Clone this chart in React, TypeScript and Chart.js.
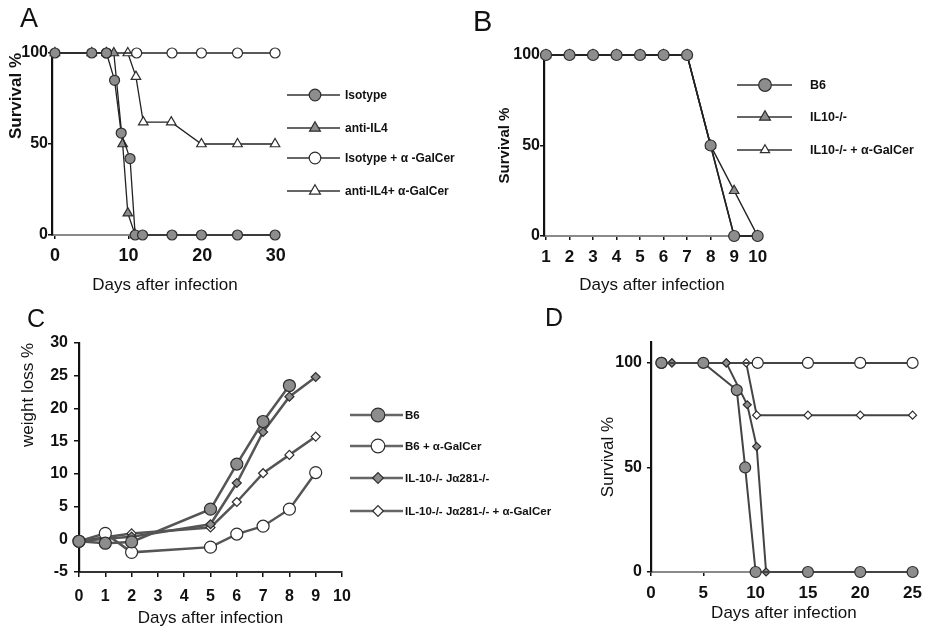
import React, { useEffect, useRef } from 'react';
import { Chart, registerables } from 'chart.js';

Chart.register(...registerables);

// ---------------- Panel A ----------------
const A_X_TICKS = [0, 10, 20, 30];
const A_Y_TICKS = [0, 50, 100];
const A_ISOTYPE_DAYS = [0, 5, 7, 8.1, 9, 10.2, 10.9, 11.9, 15.9, 19.9, 24.8, 29.9];
const A_ISOTYPE = [100, 100, 100, 85, 56, 42, 0, 0, 0, 0, 0, 0];
const A_ANTIIL4_DAYS = [0, 5, 7, 8, 9.2, 9.9, 10.9];
const A_ANTIIL4 = [100, 100, 100, 100, 50, 12, 0];
const A_ISO_GAL_DAYS = [7, 11.1, 15.9, 19.9, 24.8, 29.9];
const A_ISO_GAL = [100, 100, 100, 100, 100, 100];
const A_ANTI_GAL_DAYS = [9.9, 11, 12, 15.8, 19.9, 24.8, 29.9];
const A_ANTI_GAL = [100, 87, 62, 62, 50, 50, 50];

// ---------------- Panel B ----------------
const B_X_TICKS = [1, 2, 3, 4, 5, 6, 7, 8, 9, 10];
const B_Y_TICKS = [0, 50, 100];
const B_DAYS = [1, 2, 3, 4, 5, 6, 7, 8, 9, 10];
const B_B6 = [100, 100, 100, 100, 100, 100, 100, 50, 0, 0];
const B_IL10 = [100, 100, 100, 100, 100, 100, 100, 50, 25, 0];
const B_IL10_GAL = [100, 100, 100, 100, 100, 100, 100, 50, 0, 0];

// ---------------- Panel C ----------------
const C_X_TICKS = [0, 1, 2, 3, 4, 5, 6, 7, 8, 9, 10];
const C_Y_TICKS = [-5, 0, 5, 10, 15, 20, 25, 30];
const C_B6_DAYS = [0, 1, 2, 5, 6, 7, 8];
const C_B6 = [-0.3, -0.6, -0.4, 4.6, 11.5, 18, 23.5];
const C_DAYS = [0, 1, 2, 5, 6, 7, 8, 9];
const C_B6_GAL = [-0.3, 0.9, -2.0, -1.2, 0.8, 2.0, 4.6, 10.2];
const C_KO = [-0.3, 0.1, 0.4, 2.3, 8.6, 16.4, 21.8, 24.8];
const C_KO_GAL = [-0.3, 0.3, 0.9, 1.8, 5.7, 10.1, 12.9, 15.7];

// ---------------- Panel D ----------------
const D_X_TICKS = [0, 5, 10, 15, 20, 25];
const D_Y_TICKS = [0, 50, 100];
const D_B6_DAYS = [1, 5, 8.2, 9, 10, 15, 20, 25];
const D_B6 = [100, 100, 87, 50, 0, 0, 0, 0];
const D_KO_DAYS = [2, 7.2, 9.2, 10.1, 11, 15, 20, 25];
const D_KO = [100, 100, 80, 60, 0, 0, 0, 0];
const D_B6_GAL_DAYS = [1, 10.2, 15, 20, 25];
const D_B6_GAL = [100, 100, 100, 100, 100];
const D_KO_GAL_DAYS = [2, 7.2, 9.1, 10.1, 15, 20, 25];
const D_KO_GAL = [100, 100, 100, 75, 75, 75, 75];

const FONT = '"Liberation Sans", Arial, Helvetica, sans-serif';
const GREY = '#8d8d8d';
const EDGE = '#2e2e2e';
const WHITE = '#ffffff';
const INK = '#111111';

type Marker = 'circle' | 'triangle' | 'rectRot';
interface SeriesSpec {
  label: string;
  days: number[];
  values: number[];
  marker: Marker;
  fill: string;
  radius: number;
}
interface PanelSpec {
  left: number; top: number; width: number; height: number;
  area: { left: number; top: number; right: number; bottom: number };
  xMin: number; xMax: number; yMin: number; yMax: number;
  xTicks: number[]; yTicks: number[];
  xTitle: string; yTitle: string;
  yTitleBold: boolean; yTitleSize: number; yTitleAlign: 'start' | 'center' | 'end'; yTitleX: number;
  xTitleSize: number; xTitleY: number;
  xTickSize: number; xTickCenter: number; yTickSize: number; yTickRight: number; tickLen: number;
  xBorder: string; yBorder: string;
  lineColor: string; lineWidth: number;
  letter: { text: string; x: number; y: number; size: number };
  legend?: { x1: number; x2: number; xm: number; xt: number; ys: number[]; size: number; lineColor: string; lineWidth: number };
  series: SeriesSpec[];
}

function drawMarker(ctx: CanvasRenderingContext2D, m: Marker, x: number, y: number, r: number, fill: string) {
  ctx.beginPath();
  if (m === 'circle') {
    ctx.arc(x, y, r, 0, Math.PI * 2);
  } else if (m === 'triangle') {
    let rad = 0;
    for (let i = 0; i < 3; i++) {
      const px = x + Math.sin(rad) * r;
      const py = y - Math.cos(rad) * r;
      if (i === 0) ctx.moveTo(px, py); else ctx.lineTo(px, py);
      rad += (2 * Math.PI) / 3;
    }
  } else {
    ctx.moveTo(x - r, y);
    ctx.lineTo(x, y - r);
    ctx.lineTo(x + r, y);
    ctx.lineTo(x, y + r);
  }
  ctx.closePath();
  ctx.fillStyle = fill;
  ctx.fill();
  ctx.lineWidth = 1.2;
  ctx.strokeStyle = EDGE;
  ctx.stroke();
}

function Panel({ spec }: { spec: PanelSpec }) {
  const ref = useRef<HTMLCanvasElement | null>(null);
  useEffect(() => {
    const canvas = ref.current;
    if (!canvas) return;
    const s = spec;
    const datasets = s.series.map((sr) => ({
      label: sr.label,
      data: sr.days.map((d, i) => ({ x: d, y: sr.values[i] })),
      borderColor: s.lineColor,
      borderWidth: s.lineWidth,
      pointStyle: sr.marker,
      pointRadius: sr.radius,
      pointBackgroundColor: sr.fill,
      pointBorderColor: EDGE,
      pointBorderWidth: 1.2,
      fill: false,
      tension: 0,
      clip: false as any,
    }));
    const decor = {
      id: 'decor' + s.letter.text,
      afterDraw(chart: any) {
        const ctx: CanvasRenderingContext2D = chart.ctx;
        ctx.save();
        ctx.fillStyle = INK;
        ctx.font = `300 ${s.letter.size}px ${FONT}`;
        ctx.textAlign = 'left';
        ctx.textBaseline = 'alphabetic';
        ctx.fillText(s.letter.text, s.letter.x, s.letter.y);
        if (s.legend) {
          const lg = s.legend;
          s.series.forEach((sr, i) => {
            const y = lg.ys[i];
            ctx.beginPath();
            ctx.moveTo(lg.x1, y);
            ctx.lineTo(lg.x2, y);
            ctx.strokeStyle = lg.lineColor;
            ctx.lineWidth = lg.lineWidth;
            ctx.stroke();
            drawMarker(ctx, sr.marker, lg.xm, y, sr.radius + 0.8, sr.fill);
            ctx.fillStyle = INK;
            ctx.font = `bold ${lg.size}px ${FONT}`;
            ctx.textAlign = 'left';
            ctx.textBaseline = 'middle';
            ctx.fillText(sr.label, lg.xt, y + 1);
          });
        }
        ctx.restore();
      },
    };
    const yTitleLH = s.yTitleSize * 1.2;
    const xTitleLH = s.xTitleSize * 1.2;
    const chart = new Chart(canvas, {
      type: 'line',
      data: { datasets },
      options: {
        animation: false,
        responsive: false,
        maintainAspectRatio: false,
        devicePixelRatio: 1,
        layout: {
          padding: { left: 0, top: s.area.top, right: s.width - s.area.right, bottom: 0 },
        },
        plugins: { legend: { display: false }, tooltip: { enabled: false } },
        scales: {
          x: {
            type: 'linear',
            min: s.xMin,
            max: s.xMax,
            afterBuildTicks: (sc: any) => { sc.ticks = s.xTicks.map((v) => ({ value: v })); },
            afterFit: (sc: any) => { sc.height = s.height - s.area.bottom; },
            grid: { display: true, drawOnChartArea: false, drawTicks: true, tickLength: s.tickLen, color: INK, lineWidth: 1.5 },
            border: { display: true, color: s.xBorder, width: 2 },
            ticks: {
              color: INK,
              font: { family: FONT, size: s.xTickSize, weight: 'bold' },
              padding: s.xTickCenter - s.area.bottom - s.tickLen - s.xTickSize * 0.6,
              maxRotation: 0,
              autoSkip: false,
              callback: (v: any) => String(v),
            },
            title: {
              display: true,
              text: s.xTitle,
              color: INK,
              font: { family: FONT, size: s.xTitleSize, weight: 'normal' },
              padding: { top: 0, bottom: Math.max(0, s.height - s.xTitleY - xTitleLH / 2) },
            },
          },
          y: {
            type: 'linear',
            min: s.yMin,
            max: s.yMax,
            afterBuildTicks: (sc: any) => { sc.ticks = s.yTicks.map((v) => ({ value: v })); },
            afterFit: (sc: any) => { sc.width = s.area.left; },
            grid: { display: true, drawOnChartArea: false, drawTicks: true, tickLength: s.tickLen, color: INK, lineWidth: 1.5 },
            border: { display: true, color: s.yBorder, width: 2.2 },
            ticks: {
              color: INK,
              font: { family: FONT, size: s.yTickSize, weight: 'bold' },
              padding: s.area.left - s.tickLen - s.yTickRight,
              autoSkip: false,
              callback: (v: any) => String(v),
            },
            title: {
              display: true,
              text: s.yTitle,
              align: s.yTitleAlign,
              color: INK,
              font: { family: FONT, size: s.yTitleSize, weight: s.yTitleBold ? 'bold' : 'normal' },
              padding: { top: s.yTitleX - yTitleLH / 2, bottom: 0 },
            },
          },
        },
      } as any,
      plugins: [decor],
    });
    return () => chart.destroy();
  }, [spec]);
  return (
    <canvas
      ref={ref}
      width={spec.width}
      height={spec.height}
      style={{ position: 'absolute', left: spec.left, top: spec.top, width: spec.width, height: spec.height }}
    />
  );
}

const PANEL_A: PanelSpec = {
  left: 0, top: 0, width: 460, height: 300,
  area: { left: 52, top: 53, right: 278, bottom: 235 },
  xMin: -0.4, xMax: 30.3, yMin: 0, yMax: 100,
  xTicks: A_X_TICKS, yTicks: A_Y_TICKS,
  xTitle: 'Days after infection', yTitle: 'Survival %',
  yTitleBold: true, yTitleSize: 17, yTitleAlign: 'end', yTitleX: 16.5,
  xTitleSize: 17, xTitleY: 285,
  xTickSize: 18, xTickCenter: 256, yTickSize: 16, yTickRight: 48, tickLen: 4,
  xBorder: '#8a8a8a', yBorder: INK,
  lineColor: '#222222', lineWidth: 1.3,
  letter: { text: 'A', x: 20, y: 27, size: 27 },
  legend: { x1: 287, x2: 340, xm: 315, xt: 345, ys: [95, 128, 158, 191], size: 12, lineColor: '#333333', lineWidth: 1.3 },
  series: [
    { label: 'Isotype', days: A_ISOTYPE_DAYS, values: A_ISOTYPE, marker: 'circle', fill: GREY, radius: 5 },
    { label: 'anti-IL4', days: A_ANTIIL4_DAYS, values: A_ANTIIL4, marker: 'triangle', fill: GREY, radius: 5.5 },
    { label: 'Isotype + α -GalCer', days: A_ISO_GAL_DAYS, values: A_ISO_GAL, marker: 'circle', fill: WHITE, radius: 5 },
    { label: 'anti-IL4+ α-GalCer', days: A_ANTI_GAL_DAYS, values: A_ANTI_GAL, marker: 'triangle', fill: WHITE, radius: 5.5 },
  ],
};

const PANEL_B: PanelSpec = {
  left: 460, top: 0, width: 469, height: 300,
  area: { left: 84, top: 55, right: 300, bottom: 236 },
  xMin: 0.915, xMax: 10.1, yMin: 0, yMax: 100,
  xTicks: B_X_TICKS, yTicks: B_Y_TICKS,
  xTitle: 'Days after infection', yTitle: 'Survival %',
  yTitleBold: true, yTitleSize: 15, yTitleAlign: 'center', yTitleX: 45,
  xTitleSize: 17, xTitleY: 285,
  xTickSize: 17, xTickCenter: 257, yTickSize: 16, yTickRight: 80, tickLen: 4,
  xBorder: '#8a8a8a', yBorder: INK,
  lineColor: '#222222', lineWidth: 1.5,
  letter: { text: 'B', x: 13, y: 31, size: 29 },
  legend: { x1: 277, x2: 332, xm: 305, xt: 350, ys: [85, 117, 150], size: 12.5, lineColor: '#333333', lineWidth: 1.3 },
  series: [
    { label: 'B6', days: B_DAYS, values: B_B6, marker: 'circle', fill: GREY, radius: 5.5 },
    { label: 'IL10-/-', days: B_DAYS, values: B_IL10, marker: 'triangle', fill: GREY, radius: 5.5 },
    { label: 'IL10-/- + α-GalCer', days: B_DAYS, values: B_IL10_GAL, marker: 'triangle', fill: WHITE, radius: 4.5 },
  ],
};

const PANEL_C: PanelSpec = {
  left: 0, top: 300, width: 560, height: 329,
  area: { left: 79, top: 43, right: 342, bottom: 272 },
  xMin: 0, xMax: 10, yMin: -5, yMax: 30,
  xTicks: C_X_TICKS, yTicks: C_Y_TICKS,
  xTitle: 'Days after infection', yTitle: 'weight loss %',
  yTitleBold: false, yTitleSize: 17, yTitleAlign: 'end', yTitleX: 28,
  xTitleSize: 17, xTitleY: 320,
  xTickSize: 16, xTickCenter: 297, yTickSize: 16, yTickRight: 68, tickLen: 5,
  xBorder: '#333333', yBorder: INK,
  lineColor: '#555555', lineWidth: 2.5,
  letter: { text: 'C', x: 27, y: 27, size: 25 },
  legend: { x1: 350, x2: 403, xm: 378, xt: 405, ys: [115, 146, 178, 211], size: 11.5, lineColor: '#666666', lineWidth: 2.5 },
  series: [
    { label: 'B6', days: C_B6_DAYS, values: C_B6, marker: 'circle', fill: GREY, radius: 6 },
    { label: 'B6 + α-GalCer', days: C_DAYS, values: C_B6_GAL, marker: 'circle', fill: WHITE, radius: 6 },
    { label: 'IL-10-/- Jα281-/-', days: C_DAYS, values: C_KO, marker: 'rectRot', fill: GREY, radius: 4.5 },
    { label: 'IL-10-/- Jα281-/- + α-GalCer', days: C_DAYS, values: C_KO_GAL, marker: 'rectRot', fill: WHITE, radius: 4.5 },
  ],
};

const PANEL_D: PanelSpec = {
  left: 530, top: 300, width: 399, height: 329,
  area: { left: 121, top: 42, right: 387, bottom: 272 },
  xMin: 0, xMax: 25.4, yMin: 0, yMax: 110,
  xTicks: D_X_TICKS, yTicks: D_Y_TICKS,
  xTitle: 'Days after infection', yTitle: 'Survival %',
  yTitleBold: false, yTitleSize: 17, yTitleAlign: 'center', yTitleX: 78,
  xTitleSize: 17, xTitleY: 313,
  xTickSize: 17, xTickCenter: 293, yTickSize: 16, yTickRight: 112, tickLen: 4,
  xBorder: '#8a8a8a', yBorder: INK,
  lineColor: '#444444', lineWidth: 2,
  letter: { text: 'D', x: 15, y: 26, size: 25 },
  series: [
    { label: 'B6', days: D_B6_DAYS, values: D_B6, marker: 'circle', fill: GREY, radius: 5.5 },
    { label: 'IL-10-/- Jα281-/-', days: D_KO_DAYS, values: D_KO, marker: 'rectRot', fill: GREY, radius: 4 },
    { label: 'B6 + α-GalCer', days: D_B6_GAL_DAYS, values: D_B6_GAL, marker: 'circle', fill: WHITE, radius: 5.5 },
    { label: 'IL-10-/- Jα281-/- + α-GalCer', days: D_KO_GAL_DAYS, values: D_KO_GAL, marker: 'rectRot', fill: WHITE, radius: 4 },
  ],
};

export default function App() {
  return (
    <div style={{ position: 'absolute', left: 0, top: 0, width: 929, height: 629, background: '#ffffff', overflow: 'hidden' }}>
      <Panel spec={PANEL_C} />
      <Panel spec={PANEL_D} />
      <Panel spec={PANEL_A} />
      <Panel spec={PANEL_B} />
    </div>
  );
}
